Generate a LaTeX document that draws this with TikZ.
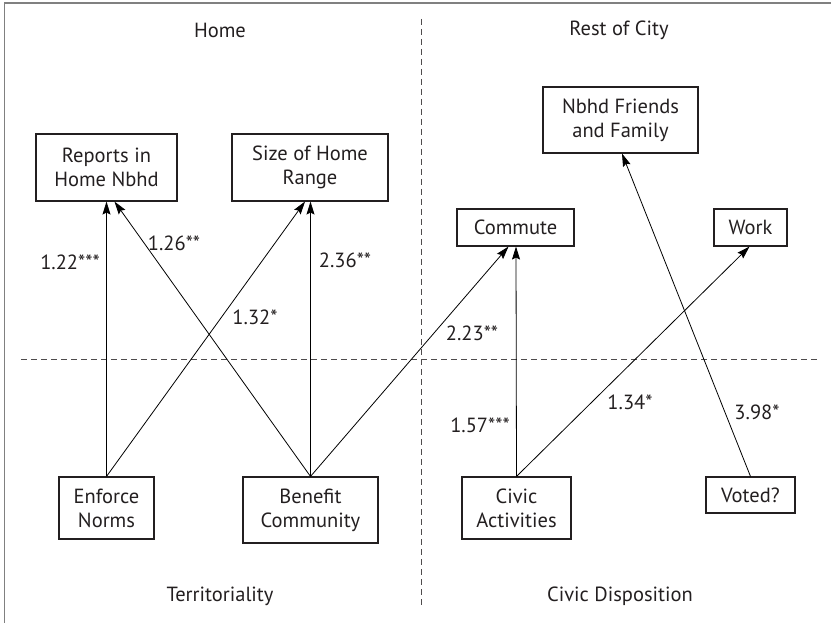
\documentclass[tikz,border=0pt]{standalone}
\usepackage{fontspec}
\setmainfont{PT Sans}
\usetikzlibrary{arrows.meta}
\definecolor{ink}{HTML}{231F20}
\definecolor{frame}{HTML}{808080}
\tikzset{
  box/.style={draw=ink, line width=1.1pt, rectangle, inner sep=0pt, align=center, text=ink, font=\fontsize{20.5}{24}\selectfont},
  lbl/.style={text=ink, font=\fontsize{20.5}{24}\selectfont, inner sep=0pt},
  head/.style={text=ink, font=\fontsize{20.5}{24}\selectfont, inner sep=0pt},
  arr/.style={draw=black, line width=0.8pt, -{Stealth[length=13pt,width=8pt,inset=2pt]}},
  divider/.style={draw=ink!80, line width=0.9pt, dash pattern=on 6pt off 4pt},
}
\begin{document}
\begin{tikzpicture}[x=1pt,y=-1pt]
\useasboundingbox (0,0) rectangle (831,623);
% frame
\draw[frame, line width=1.6pt] (4.5,623) -- (4.5,3) -- (831,3);
% dividers
\coordinate (vt) at (421,19);
\coordinate (vb) at (421,607);
\coordinate (hl) at (21,359);
\coordinate (hr) at (820,359);
\draw[divider] (vt) -- (vb);
\draw[divider] (hl) -- (hr);
% headings
\node[head] (home) at (220,30) {Home};
\node[head] (city) at (619,30) {Rest of City};
\node[head] (terr) at (220,596) {Territoriality};
\node[head] (civd) at (620,596) {Civic Disposition};
% boxes
\node[box, minimum width=141pt, minimum height=67pt] (reports) at (106.5,167.5) {Reports in\\Home Nbhd};
\node[box, minimum width=156pt, minimum height=67pt] (size) at (310,167.5) {Size of Home\\Range};
\node[box, minimum width=155pt, minimum height=66pt] (nbhd) at (620.5,120) {Nbhd Friends\\and Family};
\node[box, minimum width=117pt, minimum height=37pt] (commute) at (515.5,227.5) {Commute};
\node[box, minimum width=73pt, minimum height=37pt] (work) at (750.5,227.5) {Work};
\node[box, minimum width=95pt, minimum height=62pt] (enforce) at (106.5,508) {Enforce\\Norms};
\node[box, minimum width=135pt, minimum height=66pt] (benefit) at (310.5,510) {Benefit\\Community};
\node[box, minimum width=109pt, minimum height=62pt] (civic) at (516.5,508) {Civic\\Activities};
\node[box, minimum width=89pt, minimum height=36pt] (voted) at (750.5,495) {Voted?};
% arrows
\draw[arr] (enforce.north) -- (reports.south);
\draw[arr] (benefit.north) -- ([xshift=8pt]reports.south);
\draw[arr] (enforce.north) -- ([xshift=-5pt]size.south);
\draw[arr] (benefit.north) -- ([xshift=0.5pt]size.south);
\draw[arr] (benefit.north) -- ([xshift=-7pt]commute.south);
\draw[arr] (civic.north) -- ([xshift=0.5pt]commute.south);
\draw[arr] (civic.north) -- ([xshift=-1pt]work.south);
\draw[arr] (voted.north) -- ([xshift=1.5pt]nbhd.south);
% labels
\node[lbl] (l1) at (70,262) {1.22***};
\node[lbl] (l2) at (174,243) {1.26**};
\node[lbl] (l3) at (345,260) {2.36**};
\node[lbl] (l4) at (255,317) {1.32*};
\node[lbl] (l5) at (472,333) {2.23**};
\node[lbl] (l6) at (480,425) {1.57***};
\node[lbl] (l7) at (630,402) {1.34*};
\node[lbl] (l8) at (757,412) {3.98*};
\end{tikzpicture}
\end{document}
